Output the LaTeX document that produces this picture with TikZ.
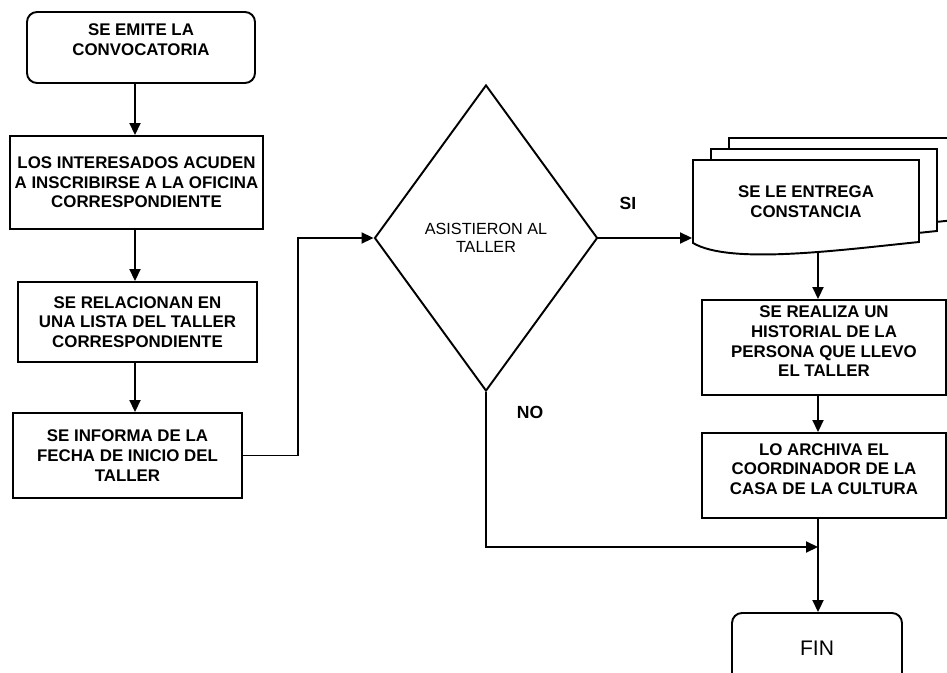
\documentclass[tikz,border=0pt]{standalone}
\usepackage{fontspec}
\setmainfont{Liberation Sans}
\usetikzlibrary{shapes.geometric,arrows.meta}

\begin{document}
\begin{tikzpicture}[line width=1.1pt,
term/.style ={rectangle, draw, rounded corners=0.2cm, align=center,
  font=\bfseries\fontsize{9.6}{11.2}\selectfont, inner sep=0pt
},
proc/.style ={rectangle, draw, fill=white, align=center,
  font=\bfseries\fontsize{9.6}{11.2}\selectfont, inner sep=0pt
},
cond/.style ={diamond, draw, align=center, inner sep=0pt,
  font=\fontsize{9.2}{10.2}\selectfont
},
sheet/.style ={draw, fill=white},
lbl/.style ={font=\bfseries\fontsize{10}{12}\selectfont},
arr/.style ={-{Triangle[length=0.24cm,width=0.22cm]}}
]
\useasboundingbox (0,0) rectangle (18.94,-13.46);
\clip (0,0) rectangle (18.94,-13.46);

% left column
\node (emite) at (2.82,-0.95) [term, minimum width=4.56cm, minimum height=1.42cm] {SE EMITE LA\\CONVOCATORIA\rule[-0.32cm]{0pt}{0pt}};
\node (inscr) at (2.73,-3.65) [proc, minimum width=5.06cm, minimum height=1.86cm] {LOS INTERESADOS ACUDEN\\A INSCRIBIRSE A LA OFICINA\\CORRESPONDIENTE};
\node (lista) at (2.75,-6.44) [proc, minimum width=4.78cm, minimum height=1.60cm] {SE RELACIONAN EN\\UNA LISTA DEL TALLER\\CORRESPONDIENTE};
\node (fecha) at (2.55,-9.11) [proc, minimum width=4.58cm, minimum height=1.70cm] {SE INFORMA DE LA\\FECHA DE INICIO DEL\\TALLER};

\coordinate (colL) at (2.70,0);
\draw[arr] (emite.south -| colL) -- (inscr.north -| colL);
\draw[arr] (inscr.south -| colL) -- (lista.north -| colL);
\draw[arr] (lista.south -| colL) -- (fecha.north -| colL);

% decision
\node (asist) at (9.72,-4.76) [cond, minimum width=4.46cm, minimum height=6.12cm] {ASISTIERON AL\\TALLER};
\coordinate (codo) at (5.96,-4.76);
\draw[arr] (fecha.east) -| (codo) -- (asist.west);

\node (si) at (12.56,-4.06) [lbl] {SI};
\node (no) at (10.60,-8.24) [lbl] {NO};

% stack of sheets
\draw[sheet, shift={(0.72,0.44)}] (13.86,-3.20) -- (18.38,-3.20) -- (18.38,-4.84) .. controls (16.8,-5.0) and (14.6,-5.3) .. (13.86,-4.86) -- cycle;
\draw[sheet, shift={(0.36,0.22)}] (13.86,-3.20) -- (18.38,-3.20) -- (18.38,-4.84) .. controls (16.8,-5.0) and (14.6,-5.3) .. (13.86,-4.86) -- cycle;
\draw[sheet] (13.86,-3.20) -- (18.38,-3.20) -- (18.38,-4.84) .. controls (16.8,-5.0) and (14.6,-5.3) .. (13.86,-4.86) -- cycle;
\node (const) at (16.12,-4.03) [align=center, font=\bfseries\fontsize{9.6}{11.2}\selectfont, minimum width=4.52cm, minimum height=1.66cm] {SE LE ENTREGA\\CONSTANCIA};
\coordinate (pie) at (16.36,-5.04);

% right column
\node (hist) at (16.48,-6.95) [proc, minimum width=4.88cm, minimum height=1.90cm] {SE REALIZA UN\\HISTORIAL DE LA\\PERSONA QUE LLEVO\\EL TALLER\rule[-0.24cm]{0pt}{0pt}};
\node (arch) at (16.48,-9.51) [proc, minimum width=4.88cm, minimum height=1.70cm] {LO ARCHIVA EL\\COORDINADOR DE LA\\CASA DE LA CULTURA\rule[-0.26cm]{0pt}{0pt}};
\node (fin) at (16.34,-12.96) [term, font=\fontsize{12}{14}\selectfont, minimum width=3.40cm, minimum height=1.40cm] {FIN};

\coordinate (colR) at (16.36,0);
\coordinate (une) at (16.36,-10.94);
\draw[arr] (asist.east) -- (asist.east -| const.west);
\draw[arr] (pie) -- (pie |- hist.north);
\draw[arr] (hist.south -| colR) -- (arch.north -| colR);
\draw[arr] (arch.south -| colR) -- (fin.north -| colR);
\draw[arr] (asist.south) |- (une);
\end{tikzpicture}
\end{document}
